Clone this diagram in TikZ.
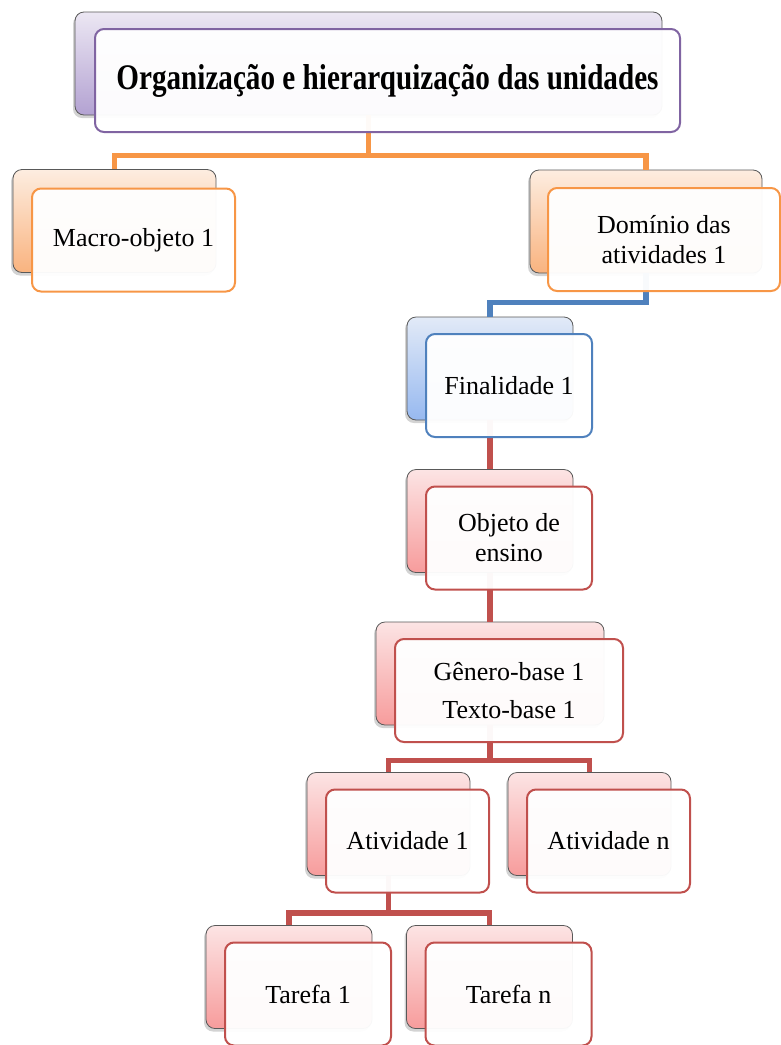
\documentclass[tikz,border=0pt]{standalone}
\usepackage{fontspec}
\usepackage{graphicx}
\setmainfont{Liberation Serif}
\usetikzlibrary{shadows}

% scheme colours: border, light top, darker bottom
\definecolor{purpleline}{HTML}{8064A2}
\definecolor{purpletop}{HTML}{ECE7F3}
\definecolor{purplebot}{HTML}{B3A2D2}
\definecolor{orangeline}{HTML}{F79646}
\definecolor{orangetop}{HTML}{FDEDE0}
\definecolor{orangebot}{HTML}{F9B37F}
\definecolor{blueline}{HTML}{4F81BD}
\definecolor{bluetop}{HTML}{E2EAF7}
\definecolor{bluebot}{HTML}{97B9F0}
\definecolor{redline}{HTML}{C0504D}
\definecolor{redtop}{HTML}{FCE4E4}
\definecolor{redbot}{HTML}{F79C9C}

\tikzset{
  backbox/.style={draw=black!65, line width=0.8pt, rounded corners=9pt,
    minimum height=103pt, inner sep=0pt,
    top color=#1top, bottom color=#1bot,
    drop shadow={shadow xshift=-2pt, shadow yshift=-3pt, opacity=0.35}},
  frontbox/.style={draw=#1line, line width=2pt, rounded corners=9pt,
    minimum height=103pt, inner sep=2pt, fill=white, fill opacity=0.96,
    text opacity=1, align=center, font=\fontsize{26}{30}\selectfont},
  link/.style={draw=#1line, line width=5.5pt},
}

\begin{document}
\begin{tikzpicture}[x=1pt,y=-1pt]
\useasboundingbox (0,0) rectangle (781,1045);

% back cards
\node[backbox=purple, minimum width=587pt] (titleB) at (368.5,63.5) {};
\node[backbox=orange, minimum width=203pt] (macroB) at (114.5,221) {};
\node[backbox=orange, minimum width=232pt] (domB)   at (646,221.5) {};
\node[backbox=blue,   minimum width=166pt] (finB)   at (490,368.5) {};
\node[backbox=red,    minimum width=166pt] (objB)   at (490,521) {};
\node[backbox=red,    minimum width=228pt] (genB)   at (490,673.5) {};
\node[backbox=red,    minimum width=163pt] (at1B)   at (388.5,824) {};
\node[backbox=red,    minimum width=163pt] (atnB)   at (589.5,824) {};
\node[backbox=red,    minimum width=166pt] (t1B)    at (289,977) {};
\node[backbox=red,    minimum width=166pt] (tnB)    at (489.5,977) {};

% connectors
\draw[link=orange] (titleB.south) -- ++(0,40) -| (macroB.north);
\draw[link=orange] (titleB.south) -- ++(0,40) -| (domB.north);
\draw[link=blue]   (domB.south) -- ++(0,29) -| (finB.north);
\draw[link=red]    (finB.south) -- (objB.north);
\draw[link=red]    (objB.south) -- (genB.north);
\draw[link=red]    (genB.south) -- ++(0,35) -| (at1B.north);
\draw[link=red]    (genB.south) -- ++(0,35) -| (atnB.north);
\draw[link=red]    (at1B.south) -- ++(0,37) -| (t1B.north);
\draw[link=red]    (at1B.south) -- ++(0,37) -| (tnB.north);

% front cards with the labels
\node[frontbox=purple, minimum width=585pt] (title) at ([shift={(19,17)}]titleB.center)
  {\scalebox{0.81}[1]{\fontsize{36}{40}\selectfont\bfseries Organização e hierarquização das unidades}};
\node[frontbox=orange, minimum width=203pt] (macro) at ([shift={(19,19)}]macroB.center) {Macro-objeto 1};
\node[frontbox=orange, minimum width=232pt] (dom) at ([shift={(18,18)}]domB.center) {Domínio das\\atividades 1};
\node[frontbox=blue, minimum width=166pt] (fin) at ([shift={(19,17)}]finB.center) {Finalidade 1};
\node[frontbox=red, minimum width=166pt] (obj) at ([shift={(19,17)}]objB.center) {Objeto de\\ensino};
\node[frontbox=red, minimum width=228pt] (gen) at ([shift={(19,17)}]genB.center) {Gênero-base 1\\[8pt]Texto-base 1};
\node[frontbox=red, minimum width=163pt] (at1) at ([shift={(19,17)}]at1B.center) {Atividade 1};
\node[frontbox=red, minimum width=163pt] (atn) at ([shift={(19,17)}]atnB.center) {Atividade n};
\node[frontbox=red, minimum width=166pt] (t1) at ([shift={(19,17)}]t1B.center) {Tarefa 1};
\node[frontbox=red, minimum width=166pt] (tn) at ([shift={(19,17)}]tnB.center) {Tarefa n};
\end{tikzpicture}
\end{document}
